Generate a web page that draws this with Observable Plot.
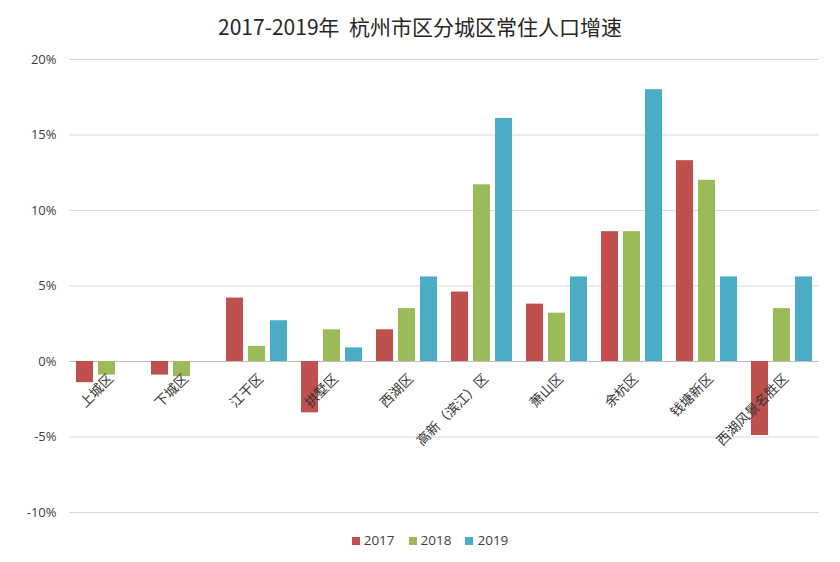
<!DOCTYPE html>
<html><head><meta charset="utf-8">
<script src="https://cdn.jsdelivr.net/npm/d3@7"></script>
<script src="https://cdn.jsdelivr.net/npm/@observablehq/plot@0.6"></script>
<style>
body{margin:0;background:#fff;font-family:"Open Sans","Noto Sans CJK SC",sans-serif;}
#title{height:45px;line-height:52px;text-align:center;font-size:21px;color:#262626;font-family:"Noto Sans CJK SC","Open Sans",sans-serif;}
#legend{display:flex;justify-content:center;gap:14px;font-size:13.5px;color:#404040;margin-left:20px;margin-top:8px;}
#legend span.sw{display:inline-block;width:8px;height:8px;margin-right:4px;vertical-align:0px;}
</style></head><body>
<div id="title">2017-2019年&nbsp; 杭州市区分城区常住人口增速</div>
<div id="chart"></div>
<div id="legend"></div>
<script>
const districts = ["上城区","下城区","江干区","拱墅区","西湖区","高新（滨江）区","萧山区","余杭区","钱塘新区","西湖风景名胜区"];
const years = ["2017","2018","2019"];
const v2017 = [-1.4, -0.9, 4.2, -3.4, 2.1, 4.6, 3.8, 8.6, 13.3, -4.9];
const v2018 = [-0.9, -1.0, 1.0, 2.1, 3.5, 11.7, 3.2, 8.6, 12.0, 3.5];
const v2019 = [null, null, 2.7, 0.9, 5.6, 16.1, 5.6, 18.0, 5.6, 5.6];
const yTicks = [-10, -5, 0, 5, 10, 15, 20];
const colors = ["#c0504d", "#9bbb59", "#4bacc6"];

const series = [v2017, v2018, v2019];
const data = [];
districts.forEach((d, i) => {
  years.forEach((y, j) => {
    if (series[j][i] != null) data.push({district: d, year: y, value: series[j][i]});
  });
});

const chart = Plot.plot({
  width: 840,
  height: 478,
  marginLeft: 68,
  marginRight: 20,
  marginTop: 14,
  marginBottom: 11,
  style: {fontFamily: '"Open Sans","Noto Sans CJK SC",sans-serif', fontSize: "13px", color: "#595959"},
  fx: {domain: districts, paddingInner: 0, paddingOuter: 0, axis: null, label: null},
  x: {domain: years, paddingInner: 0.22, paddingOuter: 0.3, axis: null},
  y: {domain: [-10, 20], ticks: yTicks, label: null},
  color: {domain: years, range: colors},
  marks: [
    Plot.ruleY(yTicks, {stroke: "#d9d9d9", strokeWidth: 1}),
    Plot.ruleY([0], {stroke: "#bfbfbf", strokeWidth: 1.2}),
    Plot.axisY({ticks: yTicks, tickFormat: d => d + "%", tickSize: 0, tickPadding: 13, fontSize: 13, fill: "#404040", label: null}),
    Plot.barY(data, {fx: "district", x: "year", y: "value", fill: "year"}),
    Plot.text(districts, {fx: d => d, y: () => 0, text: d => d, rotate: -45, textAnchor: "end", dx: 4, dy: 15, fontSize: 13.5, fill: "#333", fontFamily: '"Noto Sans CJK SC",sans-serif'})
  ]
});
document.getElementById("chart").appendChild(chart);

const legend = document.getElementById("legend");
years.forEach((y, i) => {
  const item = document.createElement("span");
  item.innerHTML = `<span class="sw" style="background:${colors[i]}"></span>${y}`;
  legend.appendChild(item);
});
</script>
</body></html>
